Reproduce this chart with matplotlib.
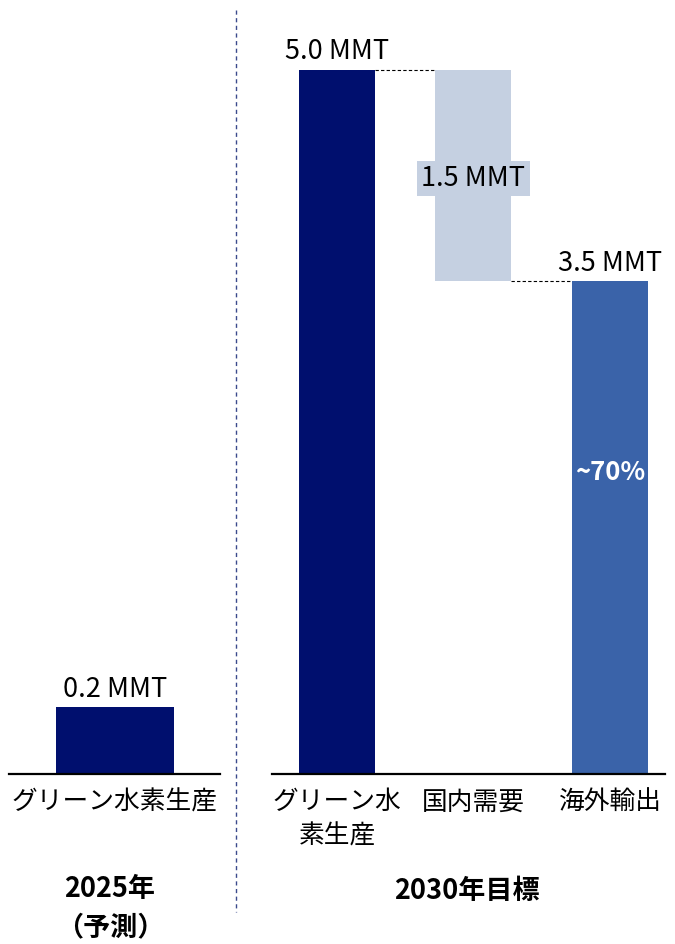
import matplotlib.pyplot as plt
from matplotlib.lines import Line2D

plt.rcParams['font.family'] = ['Noto Sans CJK JP', 'DejaVu Sans']

# 2025 forecast
cat_2025 = ['グリーン水素生産']
val_2025 = [0.2]

# 2030 target: production, domestic demand, exports
cat_2030 = ['グリーン水\n素生産', '国内需要', '海外輸出']
val_production = 5.0
val_domestic = 1.5
val_export = 3.5
export_share = '~70%'

navy = '#000F6E'
light = '#C5D0E1'
mid = '#3A63A9'

W, H = 675, 944
fig = plt.figure(figsize=(W / 100, H / 100), dpi=100)
FS = 19.5
FS_CAT = 18.5


def px_axes(x0, x1, ybot, ytop):
    return fig.add_axes([x0 / W, 1 - ybot / H, (x1 - x0) / W, (ybot - ytop) / H])


def style(ax):
    for s in ['top', 'right', 'left']:
        ax.spines[s].set_visible(False)
    ax.spines['bottom'].set_linewidth(1.6)
    ax.set_yticks([])
    ax.tick_params(axis='x', length=0, pad=11, labelsize=FS_CAT)


# left panel (own scale)
ax1 = px_axes(9, 220, 774, 70)
ax1.bar([0], val_2025, width=1.0, color=navy)
ax1.set_xlim(-0.898, 0.890)
ax1.set_ylim(0, 2.10)
ax1.set_xticks([0])
ax1.set_xticklabels(cat_2025)
style(ax1)
ax1.text(0, val_2025[0] + 0.03, f'{val_2025[0]:.1f} MMT', ha='center', va='baseline', fontsize=FS)

# right panel: waterfall
ax2 = px_axes(272, 665, 774, 70)
bw = 0.557
xs = [0, 1, 2]
ax2.bar(xs[0], val_production, width=bw, color=navy)
ax2.bar(xs[1], val_domestic, bottom=val_production - val_domestic, width=bw, color=light)
ax2.bar(xs[2], val_export, width=bw, color=mid)
ax2.set_xlim(-0.476, 2.403)
ax2.set_ylim(0, val_production)
ax2.set_xticks(xs)
ax2.set_xticklabels(cat_2030, linespacing=1.42)
style(ax2)

# connectors
ax2.plot([bw / 2, 1 - bw / 2], [val_production] * 2, color='black', ls=(0, (3, 2)), lw=0.8, clip_on=False)
ax2.plot([1 + bw / 2, 2 - bw / 2], [val_export] * 2, color='black', ls=(0, (3, 2)), lw=0.8)

ax2.text(0, val_production + 0.075, f'{val_production:.1f} MMT', ha='center', va='baseline', fontsize=FS)
ax2.text(1, val_production - val_domestic / 2, f'{val_domestic:.1f} MMT', ha='center', va='center_baseline',
         fontsize=FS, bbox=dict(facecolor=light, edgecolor='none', pad=3))
ax2.text(2, val_export + 0.075, f'{val_export:.1f} MMT', ha='center', va='baseline', fontsize=FS)
ax2.text(2, val_export / 2 + 0.41, export_share, ha='center', va='center_baseline', fontsize=FS - 1,
         color='white', fontweight='bold')

# group titles
fig.text(110 / W, 1 - 875 / H, '2025年\n（予測）', ha='center', va='top', fontsize=FS,
         fontweight='bold', linespacing=1.45)
fig.text(467 / W, 1 - 888 / H, '2030年目標', ha='center', va='center_baseline', fontsize=FS, fontweight='bold')

# divider
fig.add_artist(Line2D([236 / W, 236 / W], [1 - 10 / H, 1 - 912 / H], color='#3B4A8C',
                      ls=(0, (3, 2.5)), lw=1.0))

fig.savefig('out.png', dpi=100)
